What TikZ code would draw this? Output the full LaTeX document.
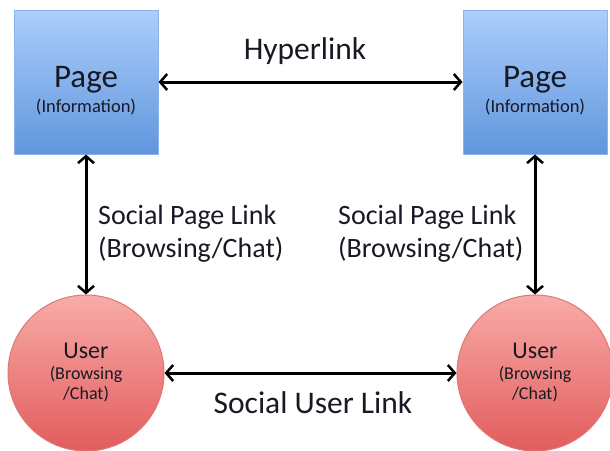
\documentclass[tikz,border=0pt]{standalone}
\usepackage{fontspec}
\setmainfont{Carlito}
\usepackage{tikz}
\usetikzlibrary{arrows.meta,positioning}
\definecolor{pTop}{RGB}{172,206,250}
\definecolor{pBot}{RGB}{96,150,222}
\definecolor{pEdge}{RGB}{140,180,235}
\definecolor{uTop}{RGB}{248,172,168}
\definecolor{uBot}{RGB}{226,92,92}
\definecolor{uEdge}{RGB}{222,120,118}
\definecolor{txt}{RGB}{25,25,35}
\tikzset{pg/.style={rectangle, draw=pEdge, line width=1pt, top color=pTop,
  bottom color=pBot, minimum width=144pt, minimum height=144pt, align=center,
  inner sep=0pt, text=txt, font=\fontsize{18.5}{25}\selectfont}}
\tikzset{usr/.style={circle, draw=uEdge, line width=1pt, top color=uTop,
  bottom color=uBot, minimum size=156pt, align=center, inner sep=0pt,
  text=txt, font=\fontsize{18}{20}\selectfont}}
\tikzset{lnk/.style={draw, line width=3pt, black,
  {Straight Barb[length=7pt,width=16pt,line width=2.5pt]}-{Straight Barb[length=7pt,width=16pt,line width=2.5pt]}}}
\tikzset{lbl/.style={inner sep=0pt, text=txt, font=\fontsize{31.5}{34}\selectfont}}
\tikzset{side/.style={inner sep=0pt, align=left, text=txt, font=\fontsize{28}{33}\selectfont}}
\newcommand{\pgtext}{\rule{0pt}{38pt}{\fontsize{33}{33}\selectfont Page}\\
  (Information)}
\newcommand{\usrtext}{{\fontsize{24}{24}\selectfont User}\\[1pt]
  (Browsing\\/Chat)}
\begin{document}
\begin{tikzpicture}[x=1pt,y=-1pt]
        \useasboundingbox (0,0) rectangle (610,450);
        %% pages
        \node (p1) at (86,82) [pg] {\pgtext};
        \node (p2) at (535,82) [pg] {\pgtext};
        %% users
        \node (u1) at (86,373) [usr] {\usrtext};
        \node (u2) at (535,373) [usr] {\usrtext};
        %% links
        \draw [lnk] (p1) to (p2);
        \draw [lnk] (u1) to (u2);
        \draw [lnk] (p1) to (u1);
        \draw [lnk] (p2) to (u2);
        \node (hl) at (305,59) [lbl, anchor=base] {Hyperlink};
        \node (ul) at (313,413) [lbl, anchor=base] {Social User Link};
        \node (s1) at (98,234) [side, anchor=west] {Social Page Link\\(Browsing/Chat)};
        \node (s2) at (338,234) [side, anchor=west] {Social Page Link\\(Browsing/Chat)};
    \end{tikzpicture}
\end{document}
